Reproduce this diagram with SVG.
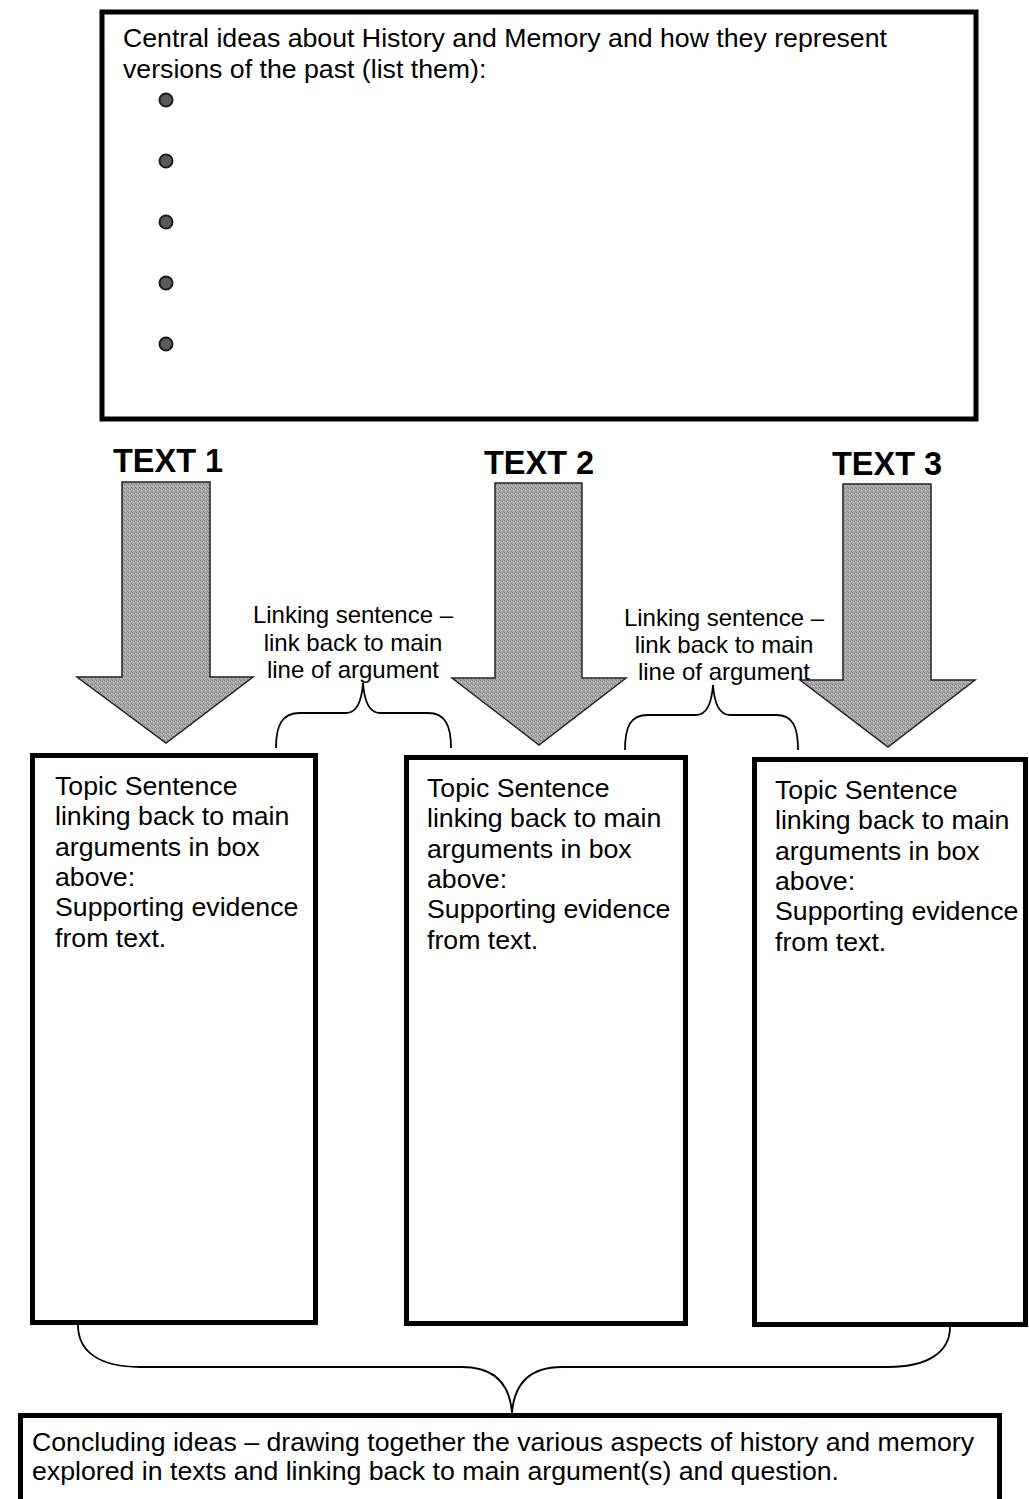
<svg xmlns="http://www.w3.org/2000/svg" width="1029" height="1499" viewBox="0 0 1029 1499">
<defs>
<pattern id="stipple" width="4" height="4" patternUnits="userSpaceOnUse">
<rect width="4" height="4" fill="#a8a8a8"/>
<rect x="0" y="0" width="1" height="1" fill="#7e7e7e"/>
<rect x="2" y="1" width="1" height="1" fill="#8a8a8a"/>
<rect x="1" y="2" width="1" height="1" fill="#c4c4c4"/>
<rect x="3" y="3" width="1" height="1" fill="#858585"/>
<rect x="3" y="1" width="1" height="1" fill="#bdbdbd"/>
</pattern>
</defs>
<style>
.box{fill:#fff;stroke:#000;stroke-width:5}
.t{font-family:"Liberation Sans",Arial,sans-serif;font-size:26.7px;fill:#000}
.lk{font-family:"Liberation Sans",Arial,sans-serif;font-size:24px;fill:#000;text-anchor:middle}
.lbl{font-family:"Liberation Sans",Arial,sans-serif;font-size:32.5px;font-weight:bold;fill:#000}
.arrow{fill:url(#stipple);stroke:#222;stroke-width:1.5;stroke-linejoin:miter}
.brace{fill:none;stroke:#000;stroke-width:1.8}
.bullet{fill:#5a5a5a;stroke:#1a1a1a;stroke-width:2}
</style>
<rect width="1029" height="1499" fill="#fff"/>
<g id="central-ideas">
<rect class="box" x="102" y="12" width="874" height="407" stroke-width="4"/>
<text class="t" x="123" y="47">Central ideas about History and Memory and how they represent</text>
<text class="t" x="123" y="78">versions of the past (list them):</text>
<circle class="bullet" cx="166" cy="100" r="6.5"/>
<circle class="bullet" cx="166" cy="161" r="6.5"/>
<circle class="bullet" cx="166" cy="222" r="6.5"/>
<circle class="bullet" cx="166" cy="283" r="6.5"/>
<circle class="bullet" cx="166" cy="344" r="6.5"/>
</g>
<g id="connectors">
<polygon class="arrow" points="122,482 210,482 210,677 253,677 166,743 77,677 122,677"/>
<polygon class="arrow" points="495,483 582,483 582,678 626,678 539,745 452,678 495,678"/>
<polygon class="arrow" points="843,484 931,484 931,680 975,680 888,747 800,680 843,680"/>
<path class="brace" d="M276,748 C276,725 282,713 300,713 L346,713 C358,713 362,697 363,683 C364,697 368,713 380,713 L428,713 C445,713 451,725 451,748"/>
<path class="brace" d="M625,750 C625,727 630,715 648,715 L696,715 C708,715 712,699 713,685 C714,699 718,715 730,715 L776,715 C793,715 798,727 798,750"/>
<path class="brace" d="M78,1325 C78,1352 100,1367 140,1367 L462,1367 C496,1367 510,1386 512,1413 C514,1386 528,1367 562,1367 L888,1367 C928,1367 950,1352 950,1327"/>
</g>
<g id="label-text1"><text class="lbl" x="113" y="472">TEXT 1</text></g>
<g id="label-text2"><text class="lbl" x="484" y="474">TEXT 2</text></g>
<g id="label-text3"><text class="lbl" x="832" y="475">TEXT 3</text></g>
<g id="linking-1">
<text class="lk" x="353" y="623">Linking sentence –</text>
<text class="lk" x="353" y="651">link back to main</text>
<text class="lk" x="353" y="678">line of argument</text>
</g>
<g id="linking-2">
<text class="lk" x="724" y="626">Linking sentence –</text>
<text class="lk" x="724" y="653">link back to main</text>
<text class="lk" x="724" y="680">line of argument</text>
</g>
<g id="box-1">
<rect class="box" x="32.5" y="755.5" width="283" height="567"/>
<text class="t" x="55" y="795">Topic Sentence</text>
<text class="t" x="55" y="825">linking back to main</text>
<text class="t" x="55" y="856">arguments in box</text>
<text class="t" x="55" y="886">above:</text>
<text class="t" x="55" y="916">Supporting evidence</text>
<text class="t" x="55" y="947">from text.</text>
</g>
<g id="box-2">
<rect class="box" x="406.5" y="757.5" width="279" height="566"/>
<text class="t" x="427" y="797">Topic Sentence</text>
<text class="t" x="427" y="827">linking back to main</text>
<text class="t" x="427" y="858">arguments in box</text>
<text class="t" x="427" y="888">above:</text>
<text class="t" x="427" y="918">Supporting evidence</text>
<text class="t" x="427" y="949">from text.</text>
</g>
<g id="box-3">
<rect class="box" x="754.5" y="759.5" width="271" height="565"/>
<text class="t" x="775" y="799">Topic Sentence</text>
<text class="t" x="775" y="829">linking back to main</text>
<text class="t" x="775" y="860">arguments in box</text>
<text class="t" x="775" y="890">above:</text>
<text class="t" x="775" y="920">Supporting evidence</text>
<text class="t" x="775" y="951">from text.</text>
</g>
<g id="conclusion">
<rect class="box" x="20.5" y="1415.5" width="979" height="110"/>
<text class="t" x="32" y="1451">Concluding ideas – drawing together the various aspects of history and memory</text>
<text class="t" x="32" y="1480">explored in texts and linking back to main argument(s) and question.</text>
</g>
</svg>
